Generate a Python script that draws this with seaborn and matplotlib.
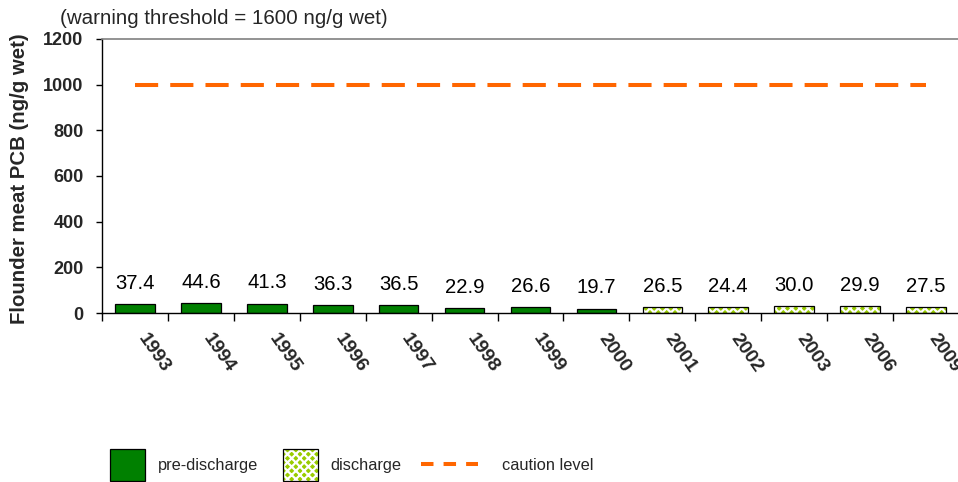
import numpy as np
import pandas as pd
import matplotlib
matplotlib.use("Agg")
import matplotlib.pyplot as plt
import matplotlib.transforms as mtransforms
from matplotlib.patches import Patch
from matplotlib.lines import Line2D
import seaborn as sns

years = ["1993", "1994", "1995", "1996", "1997", "1998", "1999", "2000",
         "2001", "2002", "2003", "2006", "2009"]
pcb = [37.4, 44.6, 41.3, 36.3, 36.5, 22.9, 26.6, 19.7,
       26.5, 24.4, 30.0, 29.9, 27.5]
phase = ["pre-discharge"] * 8 + ["discharge"] * 5
caution = [1000] * 13
y_ticks = [0, 200, 400, 600, 800, 1000, 1200]
title_text = "(warning threshold = 1600 ng/g wet)"
y_label = "Flounder meat PCB (ng/g wet)"

GREEN = "#008000"
LIME = "#99cc00"
ORANGE = "#ff6600"

sns.set_style("white")
plt.rcParams["font.family"] = ["Liberation Sans", "DejaVu Sans"]
plt.rcParams["hatch.linewidth"] = 1.6

df = pd.DataFrame({"year": years, "pcb": pcb, "phase": phase})

fig = plt.figure(figsize=(9.58, 4.82), dpi=100)
ax = fig.add_axes([102 / 958, 1 - 313 / 482, 857 / 958, (313 - 39) / 482])

sns.barplot(data=df, x="year", y="pcb", hue="phase", order=years,
            hue_order=["pre-discharge", "discharge"],
            palette={"pre-discharge": GREEN, "discharge": LIME},
            dodge=False, width=0.6, edgecolor="black", linewidth=0.9,
            saturation=1, legend=False, ax=ax)

for cont, lab in zip(ax.containers, ["pre-discharge", "discharge"]):
    vals = df.loc[df.phase == lab, "pcb"].tolist()
    ax.bar_label(cont, labels=[f"{v:.1f}" for v in vals], padding=8,
                 fontsize=14.6, color="black")
    if lab == "discharge":
        for p in cont.patches:
            p.set_hatch("xxxx")
            p._hatch_color = (1, 1, 1, 1)

# caution level line
xpos = np.arange(len(years))
ax.plot(xpos, caution, color=ORANGE, lw=2.9, dashes=(5.75, 3.0),
        solid_capstyle="butt", dash_capstyle="butt")

ax.set_ylim(0, 1200)
ax.set_yticks(y_ticks)
ax.set_yticklabels([str(t) for t in y_ticks], fontsize=13, fontweight="bold")
ax.set_xlim(-0.5, len(years) - 0.5)

# ticks at category boundaries, labels at centers
ax.set_xticks(np.arange(-0.5, len(years), 1.0))
ax.set_xticklabels([])
ax.set_xticks(xpos, minor=True)
ax.set_xticklabels(years, minor=True, fontsize=14, fontweight="bold",
                   rotation=-55, ha="left", va="center", rotation_mode="anchor")
ax.tick_params(axis="x", which="major", direction="out", length=6, width=1,
               color="black", bottom=True)
ax.tick_params(axis="x", which="minor", length=0, pad=16)
ax.tick_params(axis="y", direction="out", length=4.3, width=1, color="black",
               left=True, pad=9)
offset = mtransforms.ScaledTranslation(6 / 100, 0, fig.dpi_scale_trans)
for t in ax.get_xticklabels(minor=True):
    t.set_transform(t.get_transform() + offset)

ax.set_xlabel("")
ax.set_ylabel(y_label, fontsize=14.7, fontweight="bold")
ax.yaxis.set_label_coords((29 - 102) / 857, 0.49)

for s in ["left", "bottom"]:
    ax.spines[s].set_color("black")
    ax.spines[s].set_linewidth(1)
ax.spines["top"].set_color("#808080")
ax.spines["top"].set_linewidth(1.2)
ax.spines["right"].set_visible(False)

fig.text(60 / 958, 1 - 18 / 482, title_text, fontsize=14.8, ha="left", va="center")

fs = 11.8
fs_px = fs * 100 / 72
patch_handles = [
    Patch(facecolor=GREEN, edgecolor="black", linewidth=0.9),
    Patch(facecolor=LIME, edgecolor="black", linewidth=0.9, hatch="xxxx"),
]
leg1 = fig.legend(patch_handles, ["pre-discharge", "discharge"],
                  loc="center left",
                  bbox_to_anchor=((110 - 0.4 * fs_px) / 958, 1 - 465 / 482),
                  ncol=2, frameon=False, fontsize=fs, handlelength=2.13,
                  handleheight=2.72, handletextpad=0.8, columnspacing=1.5,
                  borderaxespad=0)
leg1.legend_handles[1]._hatch_color = (1, 1, 1, 1)

line_handle = [Line2D([0], [0], color=ORANGE, lw=2.9, dashes=(3.1, 2.5),
                      dash_capstyle="butt")]
leg2 = fig.legend(line_handle, ["caution level"], loc="center left",
                  bbox_to_anchor=((421 - 0.4 * fs_px) / 958, 1 - 465 / 482),
                  frameon=False, fontsize=fs, handlelength=3.48,
                  handletextpad=1.46, borderaxespad=0)

fig.savefig("out.png", dpi=100)
